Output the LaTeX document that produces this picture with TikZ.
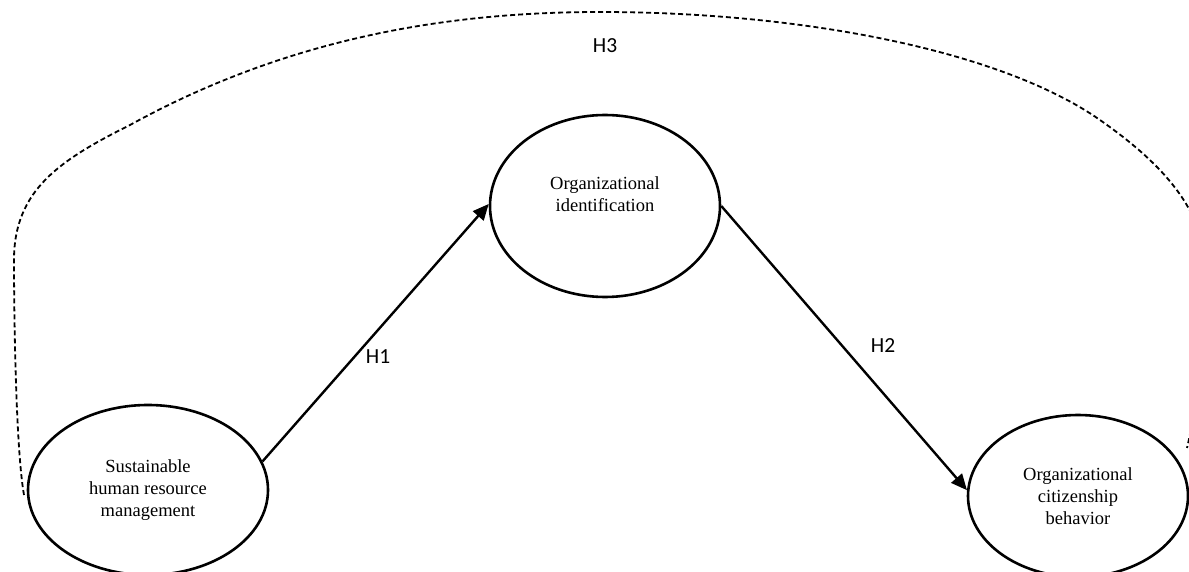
\documentclass[tikz,border=0pt]{standalone}
\usepackage{fontspec}
\setmainfont{Liberation Serif}
\newfontfamily\hfont{Carlito}
\usetikzlibrary{shapes.geometric,arrows.meta}
\tikzset{
  construct/.style={draw, ellipse, line width=2.6pt, inner sep=0pt},
  ctext/.style={align=center, font=\fontsize{18.5}{22}\selectfont},
  arr/.style={line width=2.4pt, -{Triangle[length=16pt,width=14pt]}},
  hlab/.style={font=\hfont\fontsize{21.5}{24}\selectfont},
  hyp3/.style={line width=1.8pt, dash pattern=on 5pt off 3pt}
}
\begin{document}
\begin{tikzpicture}[x=1pt,y=-1pt]
\useasboundingbox (0,0) rectangle (1189,572);
\fill[white] (0,0) rectangle (1189,572);
\begin{scope}
\clip (0,0) rectangle (1189,572);
\node[construct, minimum width=240pt, minimum height=170pt] (shrm) at (148,490) {};
\node[ctext] (shrmt) at (148,490) {Sustainable\\human resource\\management};
\node[construct, minimum width=230pt, minimum height=182pt] (oi) at (605,206) {};
\node[ctext] (oit) at (605,194) {Organizational\\identification};
\node[construct, minimum width=220pt, minimum height=162pt] (ocb) at (1078,496) {};
\node[ctext] (ocbt) at (1078,496) {Organizational\\citizenship\\behavior};
\draw[arr] (shrm.14) -- (oi.179);
\draw[arr] (oi.east) -- (ocb.177);
\coordinate (h3s) at (24,495);
\coordinate (h3e) at (1187,448);
\draw[hyp3] (h3s) .. controls (16,450) and (14,320) .. (14,260)
  .. controls (14,190) and (60,160) .. (130,125)
  .. controls (290,37) and (450,12) .. (600,12)
  .. controls (800,12) and (1000,50) .. (1100,120)
  .. controls (1150,155) and (1200,200) .. (1205,260)
  .. controls (1208,330) and (1196,410) .. (h3e);
\node[hlab] (h1) at (378,357) {H1};
\node[hlab] (h2) at (883,346) {H2};
\node[hlab] (h3) at (605,46) {H3};
\end{scope}
\end{tikzpicture}
\end{document}
